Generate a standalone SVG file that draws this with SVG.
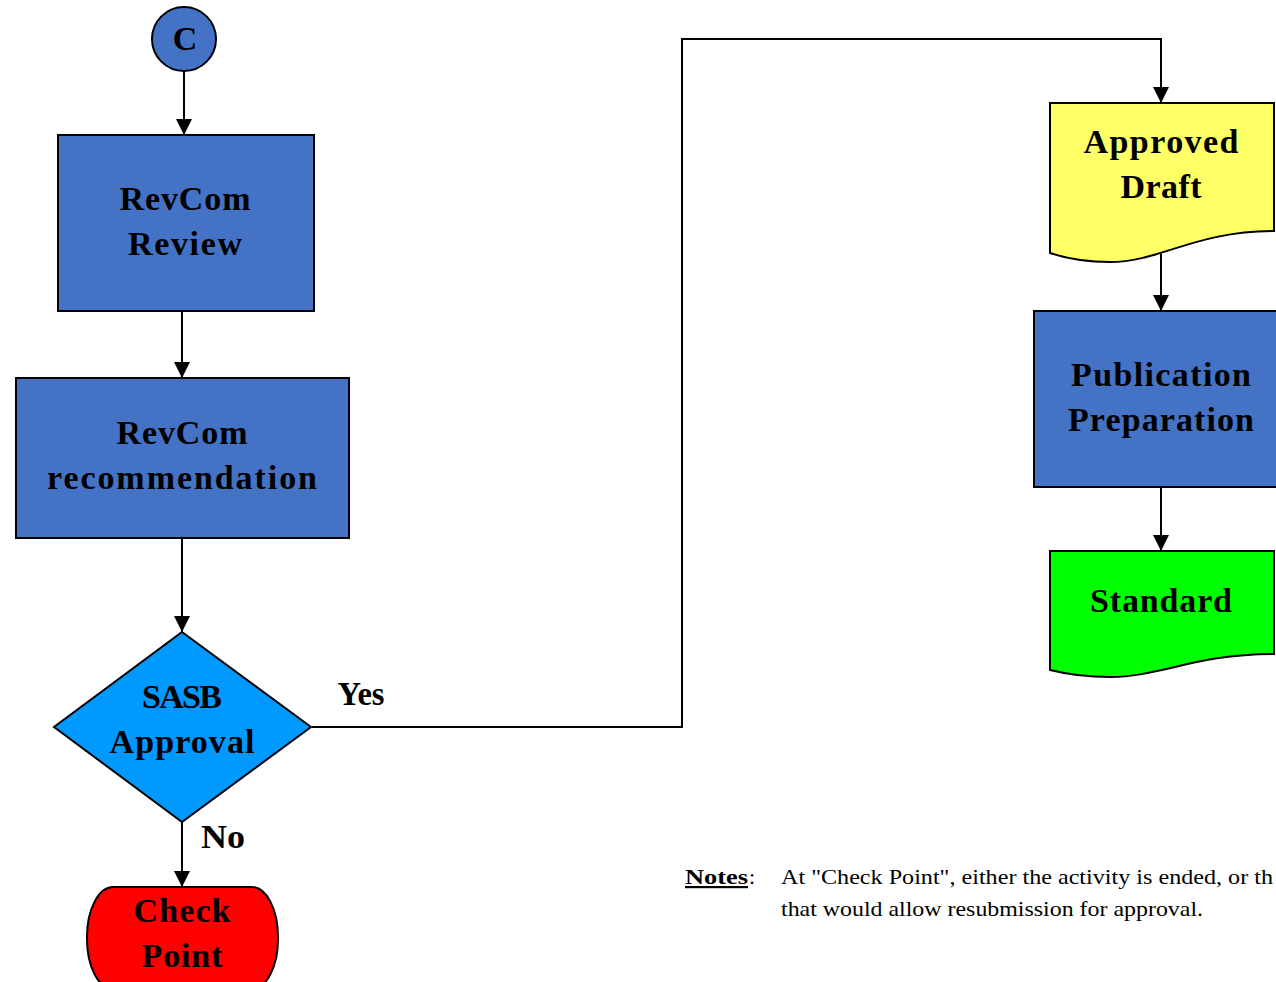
<svg xmlns="http://www.w3.org/2000/svg" width="1276" height="982" viewBox="0 0 1276 982">
<style>
.lbl{font-family:"Liberation Serif","Times New Roman",serif;font-weight:bold;font-size:34px;fill:#000;text-anchor:middle}
.shape{stroke:#000;stroke-width:2}
.blue{fill:#4472C4}
.conn{fill:none;stroke:#000;stroke-width:2}
.note{font-family:"Liberation Serif","Times New Roman",serif;font-size:22px;fill:#000}
</style>
<defs>
<marker id="ah" markerUnits="userSpaceOnUse" markerWidth="16" markerHeight="16" viewBox="0 0 16 16" refX="16" refY="8" orient="auto">
<path d="M0,0 L16,8 L0,16 Z" fill="#000"/>
</marker>
</defs>
<rect width="1276" height="982" fill="#fff"/>
<g id="connectors">
<line class="conn" x1="184" y1="71" x2="184" y2="135" marker-end="url(#ah)"/>
<line class="conn" x1="182" y1="311" x2="182" y2="378" marker-end="url(#ah)"/>
<line class="conn" x1="182" y1="538" x2="182" y2="632" marker-end="url(#ah)"/>
<line class="conn" x1="182" y1="822" x2="182" y2="887" marker-end="url(#ah)"/>
<polyline class="conn" points="312,727 682,727 682,39 1161,39 1161,103" marker-end="url(#ah)"/>
<line class="conn" x1="1161" y1="254" x2="1161" y2="311" marker-end="url(#ah)"/>
<line class="conn" x1="1161" y1="487" x2="1161" y2="551" marker-end="url(#ah)"/>
<text class="lbl" x="361" y="705" textLength="47" lengthAdjust="spacingAndGlyphs">Yes</text>
<text class="lbl" x="223" y="848" textLength="44" lengthAdjust="spacingAndGlyphs">No</text>
</g>
<g id="node-c">
<circle class="shape blue" cx="184" cy="39" r="32"/>
<text class="lbl" x="185" y="50">C</text>
</g>
<g id="node-revcom-review">
<rect class="shape blue" x="58" y="135" width="256" height="176"/>
<text class="lbl" x="185" y="210" textLength="131" lengthAdjust="spacing">RevCom</text>
<text class="lbl" x="185" y="255" textLength="114" lengthAdjust="spacing">Review</text>
</g>
<g id="node-revcom-recommendation">
<rect class="shape blue" x="16" y="378" width="333" height="160"/>
<text class="lbl" x="182" y="444" textLength="131" lengthAdjust="spacing">RevCom</text>
<text class="lbl" x="182" y="489" textLength="270" lengthAdjust="spacing">recommendation</text>
</g>
<g id="node-sasb-approval">
<polygon class="shape" fill="#0099FF" points="182,632 311,727 182,822 54,727"/>
<text class="lbl" x="182" y="708" textLength="80" lengthAdjust="spacing">SASB</text>
<text class="lbl" x="182" y="753" textLength="145" lengthAdjust="spacing">Approval</text>
</g>
<g id="node-check-point">
<rect class="shape" fill="#FF0000" x="87" y="887" width="191" height="102" rx="26" ry="50"/>
<text class="lbl" x="182" y="922" textLength="97" lengthAdjust="spacing">Check</text>
<text class="lbl" x="182" y="967" textLength="81" lengthAdjust="spacing">Point</text>
</g>
<g id="node-approved-draft">
<path class="shape" fill="#FFFF66" d="M1050,103 H1274 V231 C1195,231 1160,262 1110,262 C1082,262 1062,257 1050,253 Z"/>
<text class="lbl" x="1161" y="153" textLength="155" lengthAdjust="spacing">Approved</text>
<text class="lbl" x="1161" y="198" textLength="81" lengthAdjust="spacing">Draft</text>
</g>
<g id="node-publication-preparation">
<rect class="shape blue" x="1034" y="311" width="250" height="176"/>
<text class="lbl" x="1161" y="386" textLength="180" lengthAdjust="spacing">Publication</text>
<text class="lbl" x="1161" y="431" textLength="186" lengthAdjust="spacing">Preparation</text>
</g>
<g id="node-standard">
<path class="shape" fill="#00FF00" d="M1050,551 H1274 V654 C1195,654 1160,677 1110,677 C1082,677 1062,673 1050,670 Z"/>
<text class="lbl" x="1161" y="612" textLength="142" lengthAdjust="spacing">Standard</text>
</g>
<g id="notes">
<text class="note" x="685" y="884" font-weight="bold" text-decoration="underline" textLength="63" lengthAdjust="spacingAndGlyphs">Notes</text>
<text class="note" x="749" y="884">:</text>
<text class="note" x="781" y="884" textLength="492" lengthAdjust="spacingAndGlyphs">At "Check Point", either the activity is ended, or th</text>
<text class="note" x="781" y="916" textLength="422" lengthAdjust="spacingAndGlyphs">that would allow resubmission for approval.</text>
</g>
</svg>
